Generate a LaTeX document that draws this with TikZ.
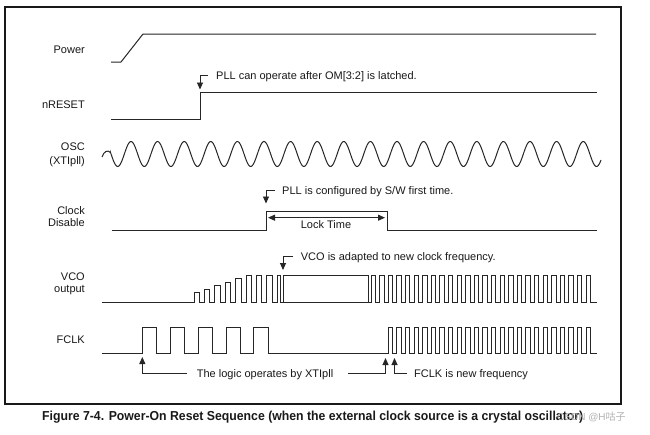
\documentclass[tikz,border=0pt]{standalone}
\usepackage{fontspec}
\setmainfont{Liberation Sans}
\newfontfamily\cjk{Noto Sans CJK SC}
\usetikzlibrary{arrows.meta}
\begin{document}
\begin{tikzpicture}[x=1pt,y=-1pt,
  sig/.style={draw=black!85,line width=1pt,line join=miter},
  lbl/.style={anchor=base east,font=\fontsize{11}{12}\selectfont,inner sep=0pt,text=black!90},
  note/.style={anchor=base west,font=\fontsize{11}{12}\selectfont,inner sep=0pt,text=black!90},
  ann/.style={draw=black!85,line width=0.9pt,-{Triangle[width=6pt,length=7pt]}},
  dbl/.style={draw=black!85,line width=0.9pt,{Triangle[width=6pt,length=7pt]}-{Triangle[width=6pt,length=7pt]}},
]
\useasboundingbox (0,0) rectangle (650,434);
\fill[white] (0,0) rectangle (650,434);
\draw[black!90,line width=1.3pt] (5,7) rectangle (621,404);

% labels
\node[lbl] (lpower) at (85,53.3) {Power};
\node[lbl] (lreset) at (85,108) {nRESET};
\node[lbl] (losc) at (85,150.7) {OSC};
\node[lbl] (lxti) at (85,164) {(XTIpll)};
\node[lbl] (lclock) at (85,214) {Clock};
\node[lbl] (ldis) at (85,226) {Disable};
\node[lbl] (lvco) at (85,280) {VCO};
\node[lbl] (lout) at (85,292) {output};
\node[lbl] (lfclk) at (85,343) {FCLK};

% Power
\draw[sig] (111,62) -- (121,62) -- (143,34) -- (596,34);
% nRESET
\draw[sig] (111,119) -- (200,119) -- (200,92) -- (597,92);
% OSC
\draw[sig] (102,157) .. controls (104,151) and (108,149.5) .. (110.6,152.7)
  -- plot[domain=110.6:601,samples=500,smooth] (\x,{154-12.5*cos(13.5338*(\x-131))});
% Clock disable
\draw[sig] (111.7,230.5) -- (266,230.5) -- (266,211) -- (387,211) -- (387,230.5) -- (597,230.5);
% VCO
\draw[sig] (101.7,302)
  \foreach \k/\t/\w in {0/292.5/5.4,1/289/5.4,2/285.5/5.4,3/282/5.4,4/278.5/5.4,5/275.5/5.4,6/275.5/5.4,7/275.5/5.4,8/275.5/3} {
    -- ({194+10.4*\k},302) -- ({194+10.4*\k},\t) -- ({194+10.4*\k+\w},\t) -- ({194+10.4*\k+\w},302)
  }
  -- (283,302) -- (283,275.5) -- (368.3,275.5) -- (368.3,302)
  \foreach \k in {0,...,25} {
    -- ({371.1+8.6*\k},302) -- ({371.1+8.6*\k},275.5) -- ({375.4+8.6*\k},275.5) -- ({375.4+8.6*\k},302)
  }
  -- (597,302);
\draw[sig] (283,302) -- (368.3,302);
% FCLK
\draw[sig] (101.7,353)
  \foreach \k in {0,...,4} {
    -- ({142.3+27.9*\k},353) -- ({142.3+27.9*\k},327) -- ({156.8+27.9*\k},327) -- ({156.8+27.9*\k},353)
  }
  \foreach \k in {0,...,23} {
    -- ({388.3+8.6*\k},353) -- ({388.3+8.6*\k},327) -- ({392.6+8.6*\k},327) -- ({392.6+8.6*\k},353)
  }
  -- (597,353);

% annotations
\coordinate (a1s) at (208,75);   \coordinate (a1t) at (200,89.5);
\coordinate (a2s) at (275,190);  \coordinate (a2t) at (266,203.5);
\coordinate (a3s) at (293,256.7);\coordinate (a3t) at (283,270);
\coordinate (lk1) at (268,217.7);\coordinate (lk2) at (385,217.7);
\coordinate (f1s) at (186.7,373);\coordinate (f1t) at (142.3,357);
\coordinate (f2s) at (348,373);  \coordinate (f2t) at (385.5,358);
\coordinate (f3s) at (407,373);  \coordinate (f3t) at (394.5,358);

\draw[ann] (a1s) -| (a1t);
\draw[ann] (a2s) -| (a2t);
\draw[ann] (a3s) -| (a3t);
\draw[dbl] (lk1) -- (lk2);
\draw[ann] (f1s) -| (f1t);
\draw[ann] (f2s) -| (f2t);
\draw[ann] (f3s) -| (f3t);

\node[note] (n1) at (216,79) {PLL can operate after OM[3:2] is latched.};
\node[note] (n2) at (282,194) {PLL is configured by S/W first time.};
\node[note,anchor=base] (n3) at (326,228.3) {Lock Time};
\node[note] (n4) at (300.7,260.7) {VCO is adapted to new clock frequency.};
\node[note] (n5) at (196.7,377) {The logic operates by XTIpll};
\node[note] (n6) at (414,377) {FCLK is new frequency};

% caption
\node[anchor=base west,inner sep=0pt,text=black!90] (cap) at (42,420.5)
  {\resizebox{541pt}{\height}{\fontsize{13}{15}\selectfont\bfseries Figure 7-4. Power-On Reset Sequence (when the external clock source is a crystal oscillator)}};
\node[anchor=base west,inner sep=0pt,text=black!30,font=\fontsize{10}{12}\selectfont] (wm) at (557,420.5) {CSDN @H{\cjk 咕子}};
\end{tikzpicture}
\end{document}
